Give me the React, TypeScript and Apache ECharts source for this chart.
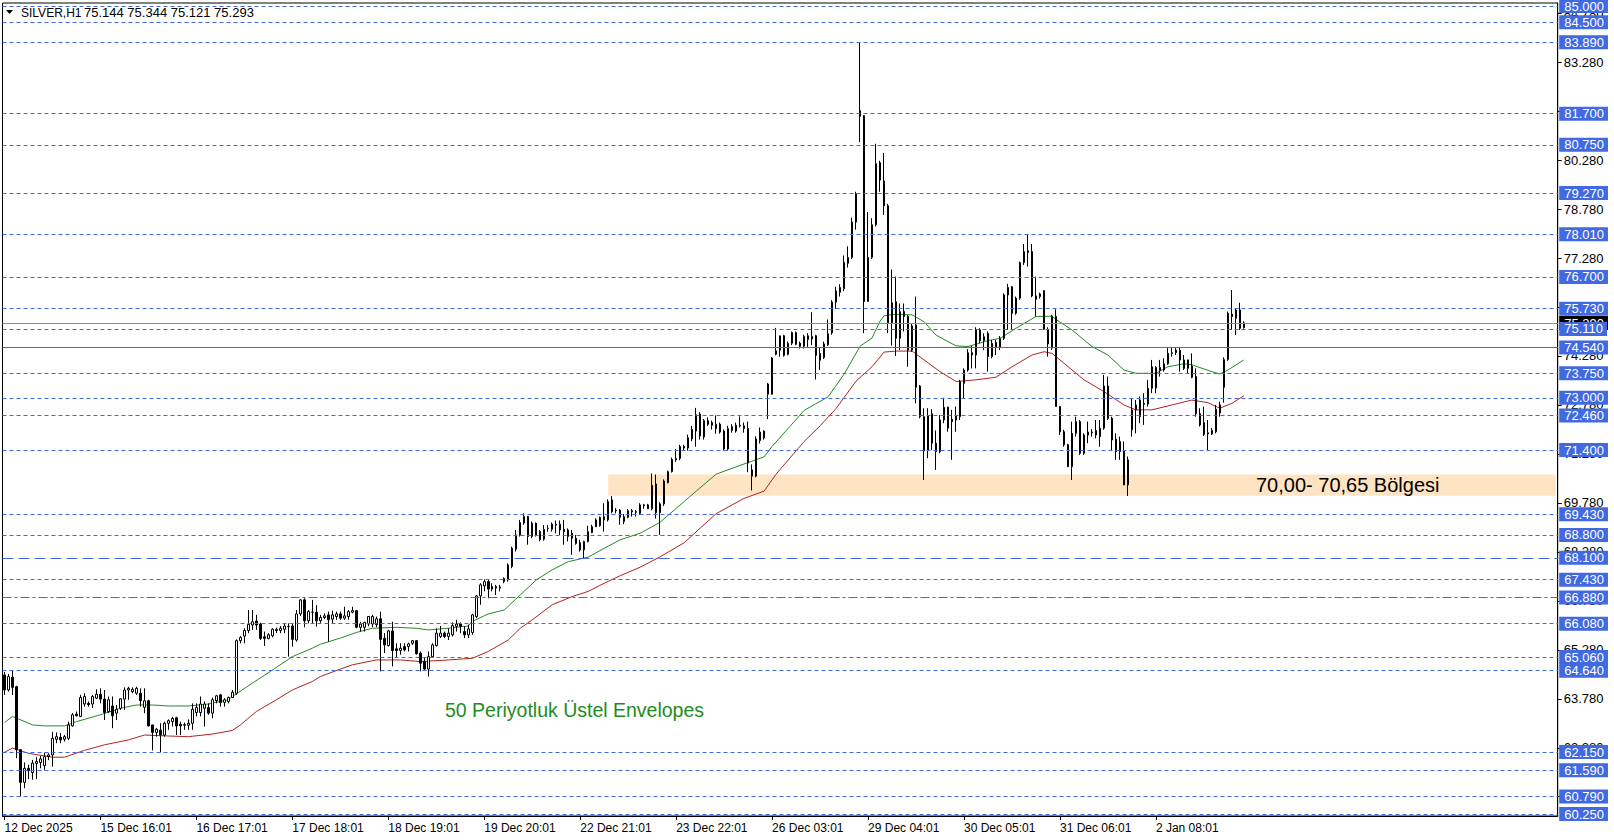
import React, { useEffect, useRef } from "react";
import * as echarts from "echarts";

// ---------- data ----------
const timeLabels = [
  "12 Dec 2025", "15 Dec 16:01", "16 Dec 17:01", "17 Dec 18:01", "18 Dec 19:01",
  "19 Dec 20:01", "22 Dec 21:01", "23 Dec 22:01", "26 Dec 03:01", "29 Dec 04:01",
  "30 Dec 05:01", "31 Dec 06:01", "2 Jan 08:01",
];

// hourly bars, each row: [open, high, low, close]
const barsA: number[][] = [
  [64.51, 64.6, 63.9, 64.05], [64.05, 64.54, 64.0, 64.46], [64.44, 64.63, 63.9, 64.13], [64.15, 64.18, 61.96, 62.22],
  [62.22, 62.24, 60.79, 61.22], [61.22, 61.83, 61.04, 61.65], [61.65, 61.76, 61.32, 61.58], [61.52, 61.91, 61.3, 61.81],
  [61.8, 62.0, 61.32, 61.86], [61.83, 62.03, 61.65, 61.94], [61.73, 62.13, 61.6, 62.01], [62.01, 62.11, 61.9, 62.06],
  [62.06, 62.77, 61.7, 62.57], [62.54, 62.75, 62.42, 62.62], [62.6, 62.73, 62.42, 62.52], [62.54, 62.67, 62.47, 62.62],
  [62.57, 63.08, 62.52, 62.98], [62.95, 63.34, 62.93, 63.29], [63.31, 63.39, 63.24, 63.26], [63.24, 63.9, 63.22, 63.82],
  [63.62, 63.95, 63.54, 63.85], [63.64, 63.7, 63.54, 63.6], [63.62, 63.9, 63.5, 63.85], [63.8, 64.07, 63.77, 63.92],
  [63.92, 64.1, 63.64, 63.77], [63.77, 64.05, 63.13, 63.36], [63.39, 63.85, 63.34, 63.75], [63.56, 63.85, 62.88, 63.26],
  [63.34, 63.59, 63.13, 63.46], [63.49, 63.8, 63.44, 63.78], [63.77, 64.13, 63.44, 64.05], [64.05, 64.15, 63.75, 64.1],
  [64.0, 64.13, 63.95, 64.07], [63.95, 64.15, 63.9, 64.1], [63.95, 64.1, 63.54, 63.72], [63.52, 64.1, 63.34, 63.72],
  [63.72, 63.75, 62.93, 62.95], [62.98, 62.98, 62.2, 62.75], [62.75, 62.88, 62.62, 62.85], [62.82, 63.03, 62.14, 62.67],
  [62.67, 63.08, 62.62, 63.03], [63.03, 63.15, 62.83, 63.11], [63.08, 63.23, 62.93, 63.18], [63.2, 63.23, 62.67, 62.95],
  [63.0, 63.08, 62.67, 62.95], [62.97, 63.05, 62.83, 62.99], [62.97, 63.15, 62.83, 63.03], [63.03, 63.64, 62.83, 63.46],
  [63.36, 63.64, 63.24, 63.51], [63.36, 63.85, 63.24, 63.62], [63.49, 63.7, 62.93, 63.62], [63.51, 63.64, 63.29, 63.34],
  [63.34, 63.82, 63.18, 63.75], [63.72, 63.9, 63.64, 63.87], [63.9, 63.93, 63.54, 63.67], [63.67, 63.8, 63.54, 63.75],
  [63.7, 63.85, 63.64, 63.82], [63.82, 64.05, 63.8, 63.98], [63.95, 65.6, 63.9, 65.56], [65.56, 65.7, 65.48, 65.66],
  [65.7, 65.94, 65.48, 65.87], [65.87, 66.5, 65.79, 66.06], [66.04, 66.5, 65.89, 66.14], [66.16, 66.35, 65.89, 66.04],
  [66.07, 66.11, 65.58, 65.63], [65.68, 65.84, 65.4, 65.63], [65.63, 65.79, 65.6, 65.74], [65.71, 65.94, 65.66, 65.91],
  [65.87, 65.96, 65.79, 65.91], [65.87, 66.01, 65.79, 65.94], [65.91, 66.09, 65.79, 66.01], [65.99, 66.09, 65.07, 66.0],
  [66.01, 66.09, 65.38, 65.6], [65.58, 66.5, 65.53, 66.38], [66.38, 66.83, 66.32, 66.81], [66.81, 66.86, 65.97, 66.17],
  [66.17, 66.5, 66.09, 66.45], [66.43, 66.81, 66.09, 66.43], [66.43, 66.65, 65.99, 66.17], [66.17, 66.35, 66.11, 66.27],
  [66.27, 66.4, 66.22, 66.32], [66.35, 66.45, 65.53, 66.2],
];

const barsB: number[][] = [
  [66.22, 66.48, 66.1, 66.35], [66.3, 66.45, 66.2, 66.38], [66.38, 66.45, 66.2, 66.25], [66.25, 66.6, 66.2, 66.32],
  [66.3, 66.5, 66.2, 66.45], [66.43, 66.6, 66.4, 66.48], [66.48, 66.5, 65.94, 65.97], [65.97, 66.14, 65.84, 66.07],
  [65.97, 66.14, 65.84, 66.12], [66.07, 66.3, 66.0, 66.3], [66.07, 66.35, 65.97, 66.3], [66.05, 66.3, 65.97, 66.23],
  [66.23, 66.45, 64.62, 65.6], [65.63, 65.79, 65.18, 65.43], [65.41, 65.89, 65.38, 65.86], [65.86, 66.14, 64.77, 65.26],
  [65.31, 65.48, 65.05, 65.26], [65.26, 65.48, 65.13, 65.33], [65.38, 65.48, 65.23, 65.28], [65.38, 65.5, 65.23, 65.46],
  [65.48, 65.58, 65.43, 65.56], [65.56, 65.58, 65.13, 65.16], [65.18, 65.23, 64.62, 64.87], [64.92, 65.03, 64.67, 64.69],
  [64.69, 65.23, 64.46, 65.07], [65.07, 65.48, 65.03, 65.43], [65.41, 65.94, 65.38, 65.79], [65.69, 66.01, 65.64, 65.79],
  [65.79, 65.84, 65.64, 65.69], [65.69, 65.94, 65.58, 65.79], [65.74, 66.12, 65.69, 66.02], [66.0, 66.2, 65.84, 66.07],
  [66.07, 66.12, 65.79, 66.0], [65.84, 66.0, 65.64, 65.74], [65.74, 66.05, 65.64, 65.92], [65.81, 66.38, 65.74, 66.35],
  [66.3, 66.96, 66.25, 66.93], [66.93, 67.32, 66.66, 67.27], [67.24, 67.44, 67.07, 67.37], [67.37, 67.44, 66.86, 67.14],
  [67.14, 67.32, 67.07, 67.22], [67.22, 67.27, 66.96, 67.17], [67.17, 67.27, 67.07, 67.2], [67.37, 67.5, 67.32, 67.47],
  [67.42, 67.93, 67.37, 67.88], [67.83, 68.44, 67.78, 68.39], [68.36, 68.95, 68.29, 68.8], [68.79, 69.26, 68.75, 69.18],
  [69.16, 69.46, 69.11, 69.36], [69.36, 69.38, 68.5, 68.75], [68.75, 69.21, 68.7, 69.16], [69.16, 69.18, 68.75, 68.8],
  [68.9, 68.95, 68.6, 68.65], [68.67, 69.1, 68.62, 68.97], [69.0, 69.1, 68.9, 69.0], [68.97, 69.18, 68.9, 69.13],
  [69.1, 69.24, 68.85, 69.13], [69.13, 69.24, 68.8, 68.95], [68.97, 69.26, 68.5, 68.9], [68.95, 69.0, 68.6, 68.75],
  [68.85, 68.95, 68.19, 68.7], [68.7, 68.8, 68.5, 68.54], [68.56, 68.65, 68.29, 68.34], [68.34, 68.62, 68.06, 68.6],
  [68.6, 69.08, 68.57, 68.9], [68.87, 69.11, 68.85, 69.05], [69.05, 69.31, 69.05, 69.26], [69.08, 69.36, 69.05, 69.34],
  [69.26, 69.77, 68.9, 69.36], [69.26, 69.89, 69.21, 69.82], [69.87, 69.99, 69.46, 69.51], [69.56, 69.62, 69.46, 69.54],
  [69.56, 69.59, 69.11, 69.34], [69.21, 69.44, 69.13, 69.36], [69.34, 69.59, 69.31, 69.54], [69.54, 69.59, 69.36, 69.51],
  [69.49, 69.56, 69.36, 69.51], [69.46, 69.77, 69.41, 69.72],
];

const barsC: number[][] = [
  [69.69, 69.75, 69.6, 69.72], [69.72, 69.75, 69.6, 69.6], [69.6, 70.68, 69.55, 70.32], [70.36, 70.65, 69.3, 69.48],
  [69.48, 69.8, 68.8, 69.75], [69.75, 70.5, 69.69, 70.45], [70.4, 70.77, 70.38, 70.74], [70.74, 71.17, 70.71, 71.11],
  [71.1, 71.43, 71.04, 71.14], [71.14, 71.56, 71.09, 71.51], [71.51, 71.56, 71.38, 71.46], [71.46, 71.87, 71.38, 71.78],
  [71.74, 72.14, 71.67, 72.03], [71.98, 72.69, 71.5, 72.48], [72.5, 72.56, 71.72, 71.83], [71.8, 72.35, 71.72, 72.3],
  [72.3, 72.4, 72.14, 72.19], [72.24, 72.3, 72.03, 72.16], [72.05, 72.46, 71.9, 72.19], [72.19, 72.24, 71.9, 71.95],
  [71.98, 72.03, 71.38, 71.43], [71.43, 72.14, 71.38, 72.06], [72.0, 72.19, 71.93, 72.12], [71.98, 72.24, 71.93, 72.16],
  [72.16, 72.43, 72.09, 72.14], [72.14, 72.24, 71.93, 72.06], [72.06, 72.27, 70.72, 71.0], [70.79, 70.96, 70.16, 70.6],
  [70.6, 71.82, 70.56, 71.74], [71.69, 72.09, 71.6, 71.95], [71.77, 72.0, 71.72, 71.98], [73.42, 73.45, 72.35, 73.11],
  [73.11, 74.25, 73.1, 74.22], [74.33, 75.14, 74.3, 74.44], [74.46, 74.9, 74.26, 74.9], [74.9, 74.93, 74.26, 74.3],
  [74.33, 74.72, 74.3, 74.67], [74.67, 75.03, 74.61, 75.0], [75.0, 75.03, 74.61, 74.64], [74.67, 74.72, 74.51, 74.58],
  [74.58, 74.93, 74.51, 74.88], [74.78, 74.98, 74.56, 74.9], [74.8, 75.62, 74.61, 74.88], [74.9, 74.93, 73.56, 74.3],
  [74.36, 74.54, 73.85, 74.15], [74.23, 74.72, 74.19, 74.65], [74.62, 75.4, 74.59, 74.96], [74.99, 75.99, 74.93, 75.93],
  [75.93, 76.4, 75.72, 76.27], [76.23, 76.48, 76.1, 76.38], [76.34, 77.36, 76.27, 77.15], [77.12, 77.64, 76.99, 77.3],
  [77.3, 78.52, 77.25, 78.38], [78.38, 79.31, 78.15, 79.25], [81.62, 83.89, 80.83, 81.8], [81.64, 81.66, 74.98, 75.95],
  [75.95, 78.69, 75.94, 77.3], [77.3, 78.5, 77.25, 78.3], [78.3, 80.78, 78.25, 80.17], [80.2, 80.26, 79.31, 79.67],
  [79.64, 80.5, 78.6, 78.88], [78.88, 78.94, 74.98, 75.3],
];

const barsD: number[][] = [
  [75.3, 76.93, 74.6, 75.91], [75.94, 76.71, 74.28, 74.82], [74.82, 75.89, 74.46, 75.64], [75.64, 75.89, 75.03, 75.49],
  [75.49, 75.54, 73.95, 74.46], [74.46, 75.28, 74.41, 75.2], [75.23, 76.1, 72.83, 73.32], [73.36, 73.39, 72.37, 72.42],
  [72.42, 72.68, 70.48, 71.38], [71.38, 72.68, 71.15, 72.44], [72.51, 72.65, 71.4, 71.61], [71.61, 72.0, 70.79, 71.35],
  [71.35, 72.47, 71.3, 72.32], [72.32, 73.0, 72.22, 72.71], [72.71, 72.73, 71.96, 72.07], [72.34, 72.63, 71.1, 72.27],
  [72.32, 72.73, 71.96, 72.44], [72.42, 73.55, 72.32, 73.5], [73.44, 73.9, 72.98, 73.85], [73.85, 74.49, 73.8, 74.38],
  [74.38, 74.59, 73.9, 74.31], [74.31, 75.16, 73.9, 75.08], [75.08, 75.13, 74.67, 74.75], [74.75, 74.97, 74.46, 74.87],
  [74.97, 75.03, 73.8, 74.26], [74.26, 74.77, 74.21, 74.67], [74.69, 74.77, 74.31, 74.55], [74.55, 74.89, 74.46, 74.82],
  [74.82, 76.2, 74.77, 76.15], [76.15, 76.49, 75.08, 76.38], [76.4, 76.42, 75.08, 75.59], [75.59, 76.1, 75.54, 76.05],
  [76.05, 77.17, 76.0, 77.14], [77.14, 77.71, 77.07, 77.48], [77.5, 78.02, 77.02, 77.45], [77.48, 77.71, 76.08, 76.12],
  [76.12, 76.71, 75.49, 76.02], [76.1, 76.22, 76.04, 76.18], [76.28, 76.3, 75.08, 75.1], [75.1, 75.16, 74.26, 74.65],
  [74.52, 75.54, 74.46, 75.5], [75.49, 75.71, 72.73, 72.73], [72.73, 72.75, 71.86, 71.96], [71.96, 72.02, 71.5, 71.56],
  [71.56, 71.59, 70.89, 70.89], [70.89, 72.27, 70.48, 71.91], [71.91, 72.42, 71.81, 72.27], [72.27, 72.32, 71.25, 71.3],
  [71.3, 71.91, 71.25, 71.86], [71.86, 72.27, 71.61, 71.95], [71.95, 72.04, 71.81, 71.93], [71.86, 72.32, 71.76, 72.0],
  [71.81, 72.32, 71.5, 72.07], [72.07, 73.7, 72.02, 73.36], [73.36, 73.65, 72.32, 72.37], [72.37, 72.42, 71.4, 71.71],
  [71.73, 71.91, 71.1, 71.35], [71.35, 71.81, 71.1, 71.66], [71.38, 71.66, 70.33, 70.33], [70.33, 71.2, 69.99, 71.1],
  [72.02, 72.98, 71.81, 72.63], [72.63, 72.93, 71.91, 72.78], [72.42, 73.04, 72.22, 72.93], [72.83, 73.14, 72.17, 72.8],
  [72.81, 73.55, 72.73, 73.29], [73.29, 74.16, 73.14, 73.95], [73.3, 73.97, 73.14, 73.93], [73.83, 74.16, 73.65, 73.93],
  [73.85, 74.21, 73.8, 74.04], [74.04, 74.52, 74.01, 74.36], [74.36, 74.52, 74.26, 74.38], [74.38, 74.52, 74.31, 74.46],
  [74.45, 74.54, 73.8, 74.16], [74.16, 74.31, 73.85, 73.9], [73.9, 74.17, 73.75, 74.16], [73.97, 74.36, 73.6, 73.63],
  [73.65, 73.9, 72.42, 72.51], [72.51, 72.68, 72.12, 72.17], [72.24, 72.73, 71.83, 71.88], [71.93, 72.32, 71.4, 71.89],
  [71.89, 72.07, 71.86, 72.0], [71.96, 72.78, 71.91, 72.65], [72.53, 72.88, 72.42, 72.78], [73.32, 74.24, 72.85, 74.17],
  [74.17, 75.64, 74.13, 75.59], [75.56, 76.3, 75.08, 75.49], [75.43, 75.74, 74.92, 75.69], [75.69, 75.91, 75.08, 75.13],
  [75.144, 75.344, 75.121, 75.293],
];

// 50-period exponential envelopes, read as [bar index, value]
const upperEnvelope: number[][] = [
  [0, 63.05], [2, 63.24], [7, 62.98], [10, 62.95], [15, 62.95], [18, 63.08], [24, 63.29], [29, 63.49], [33, 63.59],
  [37, 63.59], [41, 63.56], [46, 63.56], [51, 63.62], [56, 63.75], [57, 63.85], [62, 64.26], [67, 64.66], [72, 65.07],
  [77, 65.33], [79, 65.45], [84, 65.64], [88, 65.81], [92, 65.94], [98, 65.97], [103, 65.94], [106, 65.89], [111, 65.94],
  [116, 66.01], [117, 66.15], [121, 66.38], [125, 66.5], [129, 66.96], [133, 67.42], [137, 67.73], [141, 67.98],
  [146, 68.12], [150, 68.39], [154, 68.65], [159, 68.85], [164, 69.19], [173, 70.14], [178, 70.66], [184, 70.93],
  [190, 71.19], [192, 71.51], [200, 72.61], [206, 73.03], [210, 73.72], [214, 74.58], [217, 74.83], [219, 75.35],
  [220, 75.51], [222, 75.55], [224, 75.55], [227, 75.54], [230, 75.33], [233, 74.92], [238, 74.59], [241, 74.57],
  [246, 74.75], [249, 74.82], [253, 75.13], [258, 75.49], [262, 75.5], [263, 75.4], [267, 75.08], [272, 74.57],
  [276, 74.31], [280, 73.85], [283, 73.75], [288, 73.75], [291, 73.95], [295, 74.04], [297, 74.01], [302, 73.8],
  [304, 73.73], [306, 73.85], [310, 74.16],
];
const lowerEnvelope: number[][] = [
  [0, 62.14], [2, 62.27], [6, 62.11], [12, 61.99], [15, 61.99], [20, 62.2], [25, 62.37], [31, 62.52], [35, 62.67],
  [41, 62.64], [46, 62.62], [52, 62.7], [57, 62.81], [59, 62.98], [63, 63.39], [68, 63.75], [72, 64.05], [77, 64.31],
  [79, 64.46], [84, 64.69], [87, 64.82], [93, 64.97], [99, 64.97], [104, 64.92], [111, 64.97], [117, 65.02],
  [121, 65.23], [126, 65.58], [129, 65.94], [132, 66.2], [137, 66.66], [142, 66.91], [146, 67.07], [150, 67.32],
  [154, 67.55], [159, 67.81], [164, 68.13], [170, 68.56], [178, 69.45], [185, 69.92], [190, 70.14], [193, 70.66],
  [200, 71.66], [204, 72.14], [208, 72.67], [213, 73.51], [217, 73.95], [220, 74.4], [223, 74.43], [227, 74.43],
  [230, 74.16], [234, 73.8], [238, 73.5], [243, 73.55], [248, 73.63], [252, 73.95], [257, 74.31], [260, 74.41],
  [262, 74.36], [265, 74.06], [270, 73.55], [275, 73.19], [280, 72.78], [283, 72.63], [287, 72.63], [292, 72.78],
  [297, 72.93], [301, 72.85], [304, 72.68], [307, 72.83], [310, 73.06],
];

// horizontal levels
const dottedLevels = [
  85.0, 84.5, 83.89, 81.7, 80.75, 79.27, 78.01, 76.7, 75.73, 75.11, 73.75, 73.0, 72.46, 71.4,
  69.43, 68.8, 67.43, 66.08, 65.06, 64.64, 62.15, 61.59, 60.79, 60.25,
];
const solidLevels = [74.54];
const longDashLevels = [68.1];
const dashDotLevels = [66.88];
const currentPrice = 75.293;
const scaleTicks = [
  60.78, 62.28, 63.78, 65.28, 66.78, 68.28, 69.78, 71.28, 72.78, 74.28, 75.78, 77.28, 78.78, 80.28, 81.78, 83.28, 84.78,
];
const zone = { low: 70.0, high: 70.65, startBar: 151 };
const headerSymbol = "SILVER,H1";
const headerQuote = "75.144 75.344 75.121 75.293";
const zoneText = "70,00- 70,65 Bölgesi";
const envelopeText = "50 Periyotluk Üstel Envelopes";

const FONT = "'Liberation Sans', Arial, sans-serif";
const BLUE = "#4169e1";
const SLOTS = 389;

export default function App() {
  const ref = useRef<HTMLDivElement>(null);

  useEffect(() => {
    document.body.style.margin = "0";
    if (!ref.current) return;
    const chart = echarts.init(ref.current, undefined, { renderer: "svg" });

    const bars = [...barsA, ...barsB, ...barsC, ...barsD];
    const candleData = bars.map((b) => [b[0], b[3], b[2], b[1]]);
    const categories = Array.from({ length: SLOTS }, (_, i) => String(i));
    const labelAt = (i: number) => i % 24 === 0 && i / 24 < timeLabels.length;

    const levelLabel = (bg: string) => ({
      show: true,
      position: "end",
      distance: 1.5,
      formatter: (p: any) => Number(p.value).toFixed(3),
      color: "#ffffff",
      backgroundColor: bg,
      padding: [1, 4, 0, 5],
      fontSize: 13,
      lineHeight: 13,
      fontFamily: FONT,
    });

    const lvl = (v: number, type: any) => ({
      yAxis: v,
      lineStyle: { color: BLUE, width: 1, type },
      label: levelLabel(BLUE),
    });

    const levelData = [
      ...dottedLevels.map((v) => lvl(v, [4, 3])),
      ...solidLevels.map((v) => lvl(v, "solid")),
      ...longDashLevels.map((v) => lvl(v, [11, 5])),
      ...dashDotLevels.map((v) => lvl(v, [9, 3, 3, 3])),
    ];

    chart.setOption({
      animation: false,
      grid: {
        left: 2.5,
        right: 56.3,
        top: 3,
        bottom: 24,
        show: true,
        borderColor: "#000",
        borderWidth: 1,
        containLabel: false,
        outerBoundsMode: "none",
      },
      xAxis: {
        type: "category",
        data: categories,
        boundaryGap: true,
        axisLine: { show: true, lineStyle: { color: "#000", width: 1 } },
        axisTick: {
          show: true,
          alignWithLabel: true,
          length: 4,
          interval: (i: number) => labelAt(i),
          lineStyle: { color: "#000" },
        },
        axisLabel: {
          show: true,
          interval: (i: number) => labelAt(i),
          formatter: (_v: string, i: number) => (labelAt(i) ? timeLabels[i / 24] : ""),
          align: "left",
          margin: 6,
          color: "#000",
          fontSize: 12,
          fontFamily: FONT,
        },
        splitLine: { show: false },
      },
      yAxis: {
        type: "value",
        position: "right",
        min: 60.19,
        max: 85.092,
        splitLine: { show: false },
        axisLine: { show: true, lineStyle: { color: "#000", width: 1 } },
        axisTick: { show: true, length: 4, customValues: scaleTicks, lineStyle: { color: "#000" } },
        axisLabel: {
          show: true,
          customValues: scaleTicks,
          formatter: (v: number) => v.toFixed(3),
          margin: 6,
          color: "#000",
          fontSize: 13,
          fontFamily: FONT,
        },
      },
      series: [
        {
          name: "zone",
          type: "line",
          data: [],
          z: 0,
          silent: true,
          markArea: {
            silent: true,
            itemStyle: { color: "#ffe4c4" },
            data: [[{ xAxis: zone.startBar, yAxis: zone.high }, { xAxis: SLOTS - 1, yAxis: zone.low }]],
          },
          markLine: {
            silent: true,
            symbol: ["none", "none"],
            data: [
              {
                yAxis: currentPrice,
                lineStyle: { color: "#8c8c8c", width: 1, type: "solid" },
                label: levelLabel("#000000"),
              },
            ],
          },
        },
        {
          name: "upper",
          type: "line",
          data: upperEnvelope,
          symbol: "none",
          showSymbol: false,
          silent: true,
          z: 1,
          lineStyle: { color: "#228b22", width: 1 },
        },
        {
          name: "lower",
          type: "line",
          data: lowerEnvelope,
          symbol: "none",
          showSymbol: false,
          silent: true,
          z: 1,
          lineStyle: { color: "#b22222", width: 1 },
        },
        {
          name: "SILVER",
          type: "candlestick",
          data: candleData,
          barWidth: 2,
          z: 3,
          silent: true,
          itemStyle: {
            color: "#ffffff",
            color0: "#000000",
            borderColor: "#000000",
            borderColor0: "#000000",
            borderWidth: 1,
          },
          markLine: {
            silent: true,
            symbol: ["none", "none"],
            data: levelData,
          },
        },
      ],
      graphic: [
        {
          type: "polygon",
          shape: { points: [[6, 10], [13, 10], [9.5, 14]] },
          style: { fill: "#000" },
          z: 100,
        },
        {
          type: "text",
          x: 21,
          y: 12.5,
          z: 100,
          style: { text: headerSymbol, fill: "#000", font: `12px ${FONT}`, verticalAlign: "middle" },
        },
        {
          type: "text",
          x: 84,
          y: 12.5,
          z: 100,
          style: { text: headerQuote, fill: "#000", font: `13px ${FONT}`, verticalAlign: "middle" },
        },
        {
          type: "text",
          x: 1256,
          y: 485,
          z: 100,
          style: { text: zoneText, fill: "#000", font: `20px ${FONT}`, verticalAlign: "middle" },
        },
        {
          type: "text",
          x: 445,
          y: 710,
          z: 100,
          style: { text: envelopeText, fill: "#1e8c1e", font: `19.5px ${FONT}`, verticalAlign: "middle" },
        },
      ],
    });

    return () => chart.dispose();
  }, []);

  return <div ref={ref} style={{ width: 1614, height: 840 }} />;
}
